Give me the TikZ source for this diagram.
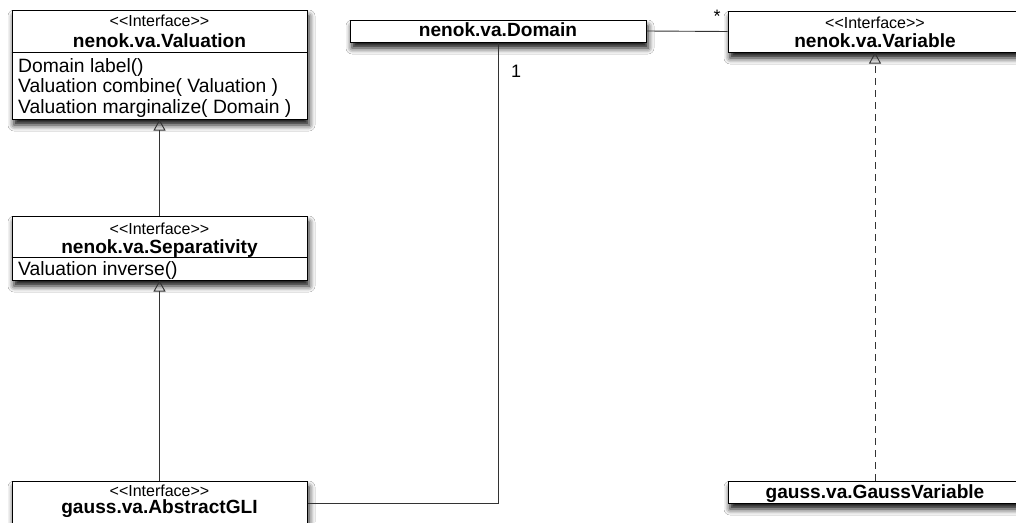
\documentclass[tikz,border=0pt]{standalone}
\usepackage{fontspec}
\setmainfont{Liberation Sans}
\usetikzlibrary{arrows.meta,shadows.blur,calc}

\newcommand{\stereotype}[1]{<{}<#1>{}>}

\begin{document}
\begin{tikzpicture}[x=1pt,y=-1pt,
  umlbox/.style={draw=black, line width=1pt, fill=white, inner sep=0pt,
    blur shadow={shadow xshift=2pt, shadow yshift=-6pt, shadow blur radius=6pt, shadow opacity=95}},
  stereo/.style={font=\fontsize{16}{16}\selectfont, inner sep=0pt, anchor=base},
  cname/.style={font=\fontsize{19.1}{19}\selectfont\bfseries, inner sep=0pt, anchor=base},
  member/.style={font=\fontsize{19.3}{19}\selectfont, inner sep=0pt, anchor=base west},
  mult/.style={font=\fontsize{18}{18}\selectfont, inner sep=0pt, anchor=base},
  assoc/.style={draw=black!80, line width=0.9pt},
  realize/.style={draw=black!80, line width=0.9pt, -{Triangle[open, width=12pt, length=11pt]}},
  realizedash/.style={realize, dash pattern=on 7pt off 5pt}
]
\clip (0,0) rectangle (1016,522);
\fill[white] (0,0) rectangle (1016,522);

% class boxes
\node[umlbox, minimum width=295pt, minimum height=109pt] (val) at (159.5,64.5) {};
\node[umlbox, minimum width=295pt, minimum height=64pt] (sep) at (159.5,248) {};
\node[umlbox, minimum width=295pt, minimum height=44pt] (gli) at (159.5,503) {};
\node[umlbox, minimum width=296pt, minimum height=22pt] (dom) at (498,31) {};
\node[umlbox, minimum width=294pt, minimum height=41pt] (var) at (875,31.5) {};
\node[umlbox, minimum width=294pt, minimum height=22pt] (gv) at (875,492) {};

% compartment separators
\draw[line width=0.9pt] (val.west |- 0,52) -- (val.east |- 0,52);
\draw[line width=0.9pt] (sep.west |- 0,257) -- (sep.east |- 0,257);

% nenok.va.Valuation
\node[stereo] (valst) at (159.5,27) {\stereotype{Interface}};
\node[cname] (valnm) at (159.5,47) {nenok.va.Valuation};
\node[member] (valm1) at (18,72) {Domain label()};
\node[member] (valm2) at (18,92.5) {Valuation combine( Valuation )};
\node[member] (valm3) at (18,113) {Valuation marginalize( Domain )};

% nenok.va.Separativity
\node[stereo] (sepst) at (159.5,234) {\stereotype{Interface}};
\node[cname] (sepnm) at (159.5,253) {nenok.va.Separativity};
\node[member] (sepm1) at (18,275) {Valuation inverse()};

% gauss.va.AbstractGLI
\node[stereo] (glist) at (159.5,496) {\stereotype{Interface}};
\node[cname] (glinm) at (159.5,513) {gauss.va.AbstractGLI};

% nenok.va.Domain
\node[cname] (domnm) at (498,36) {nenok.va.Domain};

% nenok.va.Variable
\node[stereo] (varst) at (875,28) {\stereotype{Interface}};
\node[cname] (varnm) at (875,47) {nenok.va.Variable};

% gauss.va.GaussVariable
\node[cname] (gvnm) at (875,498) {gauss.va.GaussVariable};

% connectors
\draw[realize] (sep.north) -- (val.south);
\draw[realize] (gli.north) -- (sep.south);
\draw[realizedash] (gv.north) -- (var.south);
\draw[assoc] (dom.east) -- (var.west);
\draw[assoc] (gli.east) -| (dom.south);

% multiplicities
\node[mult] (m1) at (516,77) {1};
\node[mult] (m2) at (717,22) {*};
\end{tikzpicture}
\end{document}
